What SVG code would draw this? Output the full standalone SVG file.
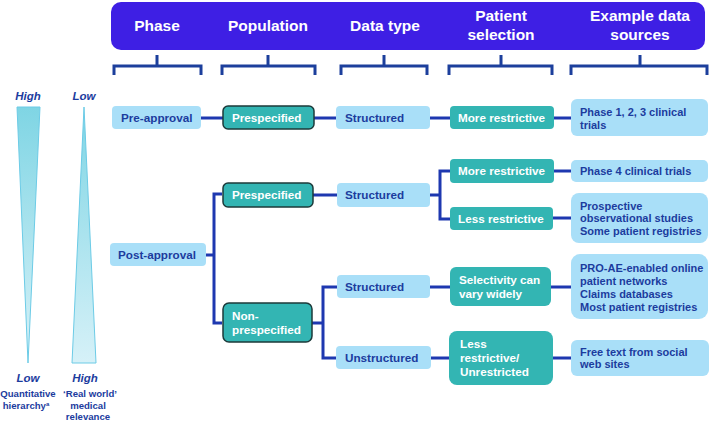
<svg xmlns="http://www.w3.org/2000/svg" width="710" height="422" viewBox="0 0 710 422">
<defs>
<linearGradient id="g1" x1="0" y1="0" x2="0" y2="1"><stop offset="0" stop-color="#7fd5e4"/><stop offset="1" stop-color="#d9f2f8"/></linearGradient>
<linearGradient id="g2" x1="0" y1="0" x2="0" y2="1"><stop offset="0" stop-color="#7fd5e4"/><stop offset="1" stop-color="#d6f1f8"/></linearGradient>
</defs>
<style>
text{font-family:"Liberation Sans",Arial,sans-serif;font-weight:bold}
.hd{fill:#fff;font-size:15.5px;text-anchor:middle}
.lb{fill:#a9dff8}
.tl{fill:#33b5b3}
.tlb{fill:#33b5b3;stroke:#1c3a3a;stroke-width:1.5}
.tb{fill:#1c3c9e;font-size:11.7px}
.tw{fill:#fff;font-size:11.7px}
.ts{fill:#1c3c9e;font-size:11px}
.c{fill:none;stroke:#1e38b0;stroke-width:3}
.br{fill:none;stroke:#1c3f9c;stroke-width:3}
.sm{fill:#1c3c9e;font-size:9.6px;text-anchor:middle}
.it{fill:#1c3c9e;font-size:11.5px;font-style:italic;text-anchor:middle}
</style>
<g id="header">
<rect x="111" y="2" width="594" height="48" rx="10" fill="#3e1fe4"/>
<text class="hd" x="157" y="31">Phase</text>
<text class="hd" x="268" y="31">Population</text>
<text class="hd" x="385" y="31">Data type</text>
<text class="hd" x="501" y="21">Patient</text>
<text class="hd" x="501" y="40">selection</text>
<text class="hd" x="640" y="21">Example data</text>
<text class="hd" x="640" y="40">sources</text>
</g>
<g id="brackets">
<path class="br" d="M114 75V66H201V75M157 66V55"/>
<path class="br" d="M222 75V66H315V75M268 66V55"/>
<path class="br" d="M341 75V66H427V75M384 66V55"/>
<path class="br" d="M449 75V66H552V75M501 66V55"/>
<path class="br" d="M571 75V66H707V75M640 66V55"/>
</g>
<g id="scales">
<polygon points="17,107 40,107 28,363" fill="url(#g1)" stroke="#6ccbe6" stroke-width="1"/>
<polygon points="84,107 96,363 72,363" fill="url(#g2)" stroke="#6ccbe6" stroke-width="1"/>
<text class="it" x="28" y="100">High</text>
<text class="it" x="84" y="100">Low</text>
<text class="it" x="28" y="382">Low</text>
<text class="it" x="85" y="382">High</text>
<text class="sm" x="28" y="397">Quantitative</text>
<text class="sm" x="26" y="409">hierarchy<tspan font-size="6" dy="-3">a</tspan></text>
<text class="sm" x="90" y="397">‘Real world’</text>
<text class="sm" x="88" y="409">medical</text>
<text class="sm" x="88" y="420">relevance</text>
</g>
<g id="connectors">
<path class="c" d="M201 118H223M314 118H336M430 118H450M554 118H571"/>
<path class="c" d="M206 255H214M222 194H214V323H222"/>
<path class="c" d="M313 195H337M430 195H440M450 171H440V219H450M554 171H571M553 218H571"/>
<path class="c" d="M312 323H323M337 287H323V358H336"/>
<path class="c" d="M430 287H450M551 287H571M431 358H449M553 358H571"/>
</g>
<g id="n-preapproval"><rect class="lb" x="112" y="106" width="89" height="23" rx="4"/><text class="tb" x="121" y="122">Pre-approval</text></g>
<g id="n-prespec1"><rect class="tlb" x="223" y="106" width="91" height="23" rx="5"/><text class="tw" x="232" y="122">Prespecified</text></g>
<g id="n-struct1"><rect class="lb" x="336" y="106" width="94" height="23" rx="4"/><text class="tb" x="345" y="122">Structured</text></g>
<g id="n-more1"><rect class="tl" x="450" y="106" width="104" height="23" rx="4"/><text class="tw" x="458" y="122">More restrictive</text></g>
<g id="n-phase123"><rect class="lb" x="571" y="99" width="137" height="37" rx="6"/><text class="ts" x="580" y="116">Phase 1, 2, 3 clinical</text><text class="ts" x="580" y="129">trials</text></g>
<g id="n-postapproval"><rect class="lb" x="110" y="243" width="96" height="23" rx="4"/><text class="tb" x="118" y="259">Post-approval</text></g>
<g id="n-prespec2"><rect class="tlb" x="223" y="183" width="90" height="24" rx="5"/><text class="tw" x="232" y="199">Prespecified</text></g>
<g id="n-struct2"><rect class="lb" x="337" y="183" width="93" height="24" rx="4"/><text class="tb" x="345" y="199">Structured</text></g>
<g id="n-more2"><rect class="tl" x="450" y="159" width="104" height="24" rx="4"/><text class="tw" x="458" y="175">More restrictive</text></g>
<g id="n-less1"><rect class="tl" x="450" y="207" width="103" height="23" rx="4"/><text class="tw" x="458" y="223">Less restrictive</text></g>
<g id="n-phase4"><rect class="lb" x="571" y="160" width="137" height="22" rx="5"/><text class="ts" x="580" y="175">Phase 4 clinical trials</text></g>
<g id="n-prospective"><rect class="lb" x="571" y="193" width="137" height="50" rx="8"/><text class="ts" x="580" y="210">Prospective</text><text class="ts" x="580" y="222">observational studies</text><text class="ts" x="580" y="235">Some patient registries</text></g>
<g id="n-nonprespec"><rect class="tlb" x="223" y="303" width="89" height="39" rx="6"/><text class="tw" x="232" y="320">Non-</text><text class="tw" x="232" y="334">prespecified</text></g>
<g id="n-struct3"><rect class="lb" x="337" y="275" width="93" height="23" rx="4"/><text class="tb" x="345" y="291">Structured</text></g>
<g id="n-unstruct"><rect class="lb" x="336" y="346" width="95" height="23" rx="4"/><text class="tb" x="345" y="362">Unstructured</text></g>
<g id="n-select"><rect class="tl" x="450" y="267" width="101" height="39" rx="6"/><text class="tw" x="459" y="284">Selectivity can</text><text class="tw" x="459" y="298">vary widely</text></g>
<g id="n-proae"><rect class="lb" x="571" y="254" width="137" height="65" rx="9"/><text class="ts" x="580" y="272">PRO-AE-enabled online</text><text class="ts" x="580" y="285">patient networks</text><text class="ts" x="580" y="298">Claims databases</text><text class="ts" x="580" y="311">Most patient registries</text></g>
<g id="n-lessunres"><rect class="tl" x="449" y="331" width="104" height="54" rx="8"/><text class="tw" x="460" y="348">Less</text><text class="tw" x="460" y="362">restrictive/</text><text class="tw" x="460" y="376">Unrestricted</text></g>
<g id="n-freetext"><rect class="lb" x="571" y="340" width="138" height="36" rx="6"/><text class="ts" x="580" y="356">Free text from social</text><text class="ts" x="580" y="368">web sites</text></g>
</svg>
